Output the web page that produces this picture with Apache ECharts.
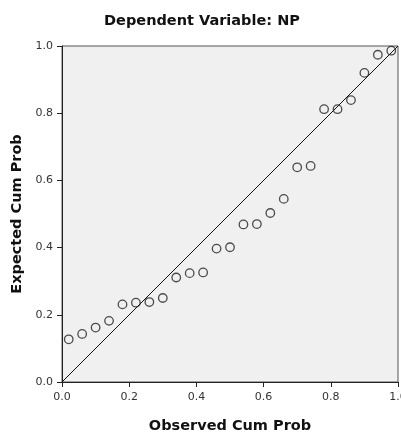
<!DOCTYPE html>
<html>
<head>
<meta charset="utf-8">
<script src="https://cdn.jsdelivr.net/npm/echarts@6/dist/echarts.min.js"></script>
<style>html,body{margin:0;padding:0;background:#fff;}#c{width:401px;height:437px;}</style>
</head>
<body>
<div id="c"></div>
<script>
const observedCumProb = [0.02,0.06,0.10,0.14,0.18,0.22,0.26,0.30,0.34,0.38,0.42,0.46,0.50,0.54,0.58,0.62,0.66,0.70,0.74,0.78,0.82,0.86,0.90,0.94,0.98];
const expectedCumProb = [0.127,0.143,0.162,0.182,0.231,0.236,0.238,0.250,0.311,0.324,0.326,0.397,0.401,0.469,0.470,0.503,0.545,0.639,0.643,0.812,0.812,0.839,0.920,0.974,0.986];
const referenceLine = [[0,0],[1,1]];
const tickLabels = ['0.0','0.2','0.4','0.6','0.8','1.0'];

const points = observedCumProb.map((x,i)=>[x, expectedCumProb[i]]);
const fontFam = 'DejaVu Sans, Verdana, sans-serif';

const chart = echarts.init(document.getElementById('c'), null, {renderer:'canvas'});
const axisCommon = {
  type:'value', min:0, max:1, interval:0.2,
  nameLocation:'middle',
  nameTextStyle:{fontFamily:fontFam, fontSize:14.5, fontWeight:'bold', color:'#111'},
  axisLine:{show:true, lineStyle:{color:'#222', width:1}},
  axisTick:{show:true, inside:false, length:5, lineStyle:{color:'#222'}},
  axisLabel:{fontFamily:fontFam, fontSize:11, color:'#333', formatter:(v)=>tickLabels[Math.round(v/0.2)]},
  splitLine:{show:false}
};
chart.setOption({
  animation:false,
  title:{text:'Dependent Variable: NP', left:197, textAlign:'center', top:9,
    textStyle:{fontFamily:fontFam, fontSize:14.5, fontWeight:'bold', color:'#111'}},
  grid:{left:62, right:3, top:46, bottom:55, outerBoundsMode:'none', containLabel:false,
    show:true, backgroundColor:'#f0f0f0', borderColor:'#555', borderWidth:1},
  xAxis:Object.assign({}, axisCommon, {name:'Observed Cum Prob', nameGap:37, axisLabel:Object.assign({}, axisCommon.axisLabel, {margin:10})}),
  yAxis:Object.assign({}, axisCommon, {name:'Expected Cum Prob', nameGap:33, axisLabel:Object.assign({}, axisCommon.axisLabel, {margin:9})}),
  series:[
    {type:'line', data:referenceLine, showSymbol:false, symbol:'none', lineStyle:{color:'#111', width:1}, silent:true, z:2},
    {type:'scatter', data:points, symbol:'circle', symbolSize:8.5, itemStyle:{color:'rgba(0,0,0,0)', borderColor:'#222', borderWidth:1.3}, z:3}
  ]
});
</script>
</body>
</html>
